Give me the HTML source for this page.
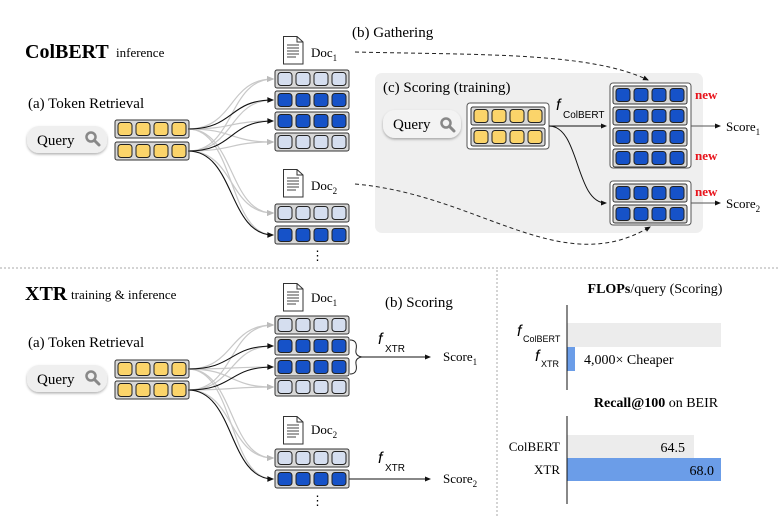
<!DOCTYPE html>
<html><head><meta charset="utf-8"><style>
html,body{margin:0;padding:0;background:#fff;}
svg{display:block;font-family:"Liberation Serif",serif;}
</style></head><body>
<svg width="778" height="516" viewBox="0 0 778 516" xmlns="http://www.w3.org/2000/svg">
<defs>
<g id="rl"><rect x="0" y="0" width="74" height="18" rx="2" fill="#d8d8d8" stroke="#333" stroke-width="1"/>
<rect x="3" y="2.5" width="14" height="13" rx="3" fill="#d5deef" stroke="#222"/><rect x="21" y="2.5" width="14" height="13" rx="3" fill="#d5deef" stroke="#222"/><rect x="39" y="2.5" width="14" height="13" rx="3" fill="#d5deef" stroke="#222"/><rect x="57" y="2.5" width="14" height="13" rx="3" fill="#d5deef" stroke="#222"/></g>
<g id="rd"><rect x="0" y="0" width="74" height="18" rx="2" fill="#d8d8d8" stroke="#333" stroke-width="1"/>
<rect x="3" y="2.5" width="14" height="13" rx="3" fill="#1652c8" stroke="#222"/><rect x="21" y="2.5" width="14" height="13" rx="3" fill="#1652c8" stroke="#222"/><rect x="39" y="2.5" width="14" height="13" rx="3" fill="#1652c8" stroke="#222"/><rect x="57" y="2.5" width="14" height="13" rx="3" fill="#1652c8" stroke="#222"/></g>
<g id="ry"><rect x="0" y="0" width="74" height="18" rx="2" fill="#d8d8d8" stroke="#333" stroke-width="1"/>
<rect x="3" y="2.5" width="14" height="13" rx="3" fill="#fbd46a" stroke="#222"/><rect x="21" y="2.5" width="14" height="13" rx="3" fill="#fbd46a" stroke="#222"/><rect x="39" y="2.5" width="14" height="13" rx="3" fill="#fbd46a" stroke="#222"/><rect x="57" y="2.5" width="14" height="13" rx="3" fill="#fbd46a" stroke="#222"/></g>
<g id="doc"><path d="M0.5,0.5 H14 L20,6 V28 H0.5 Z" fill="#fff" stroke="#333"/><path d="M14,0.5 V6 H20" fill="none" stroke="#333"/>
<path d="M4,9H16M4,12H16M4,15H16M4,18H16M4,21H13" stroke="#444" stroke-width="1"/></g>
<g id="mag"><circle cx="0" cy="0" r="4.5" fill="none" stroke="#888" stroke-width="2.5"/><line x1="3.5" y1="3.5" x2="8" y2="8" stroke="#888" stroke-width="3" stroke-linecap="round"/></g>
<marker id="ab" markerWidth="6" markerHeight="6" refX="5" refY="3" orient="auto"><path d="M0,0.5 L6,3 L0,5.5 Z" fill="#111"/></marker>
<marker id="ag" markerWidth="6" markerHeight="6" refX="5" refY="3" orient="auto"><path d="M0,0.5 L6,3 L0,5.5 Z" fill="#bbb"/></marker>
<filter id="sh" x="-20%" y="-20%" width="140%" height="160%"><feDropShadow dx="0" dy="1.5" stdDeviation="1.2" flood-color="#000" flood-opacity="0.3"/></filter>
</defs>

<!-- ColBERT section -->
<text x="25" y="58" font-size="20" font-weight="bold">ColBERT</text>
<text x="116" y="57" font-size="13">inference</text>
<text x="28" y="108" font-size="15">(a) Token Retrieval</text>
<rect x="27" y="126" width="80" height="27" rx="12" fill="#efefef" filter="url(#sh)"/>
<text x="37" y="145" font-size="15">Query</text>
<use href="#mag" x="91" y="137"/>
<use href="#ry" x="115" y="120"/><use href="#ry" x="115" y="142"/>

<!-- gray lines top -->
<g fill="none" stroke="#c8c8c8" stroke-width="1.2" marker-end="url(#ag)">
<path d="M188,129 C235,129 228,79 273,79"/><path d="M188,151 C235,151 228,79 273,79"/>
<path d="M188,129 C235,129 228,142 273,142"/><path d="M188,151 C235,151 228,142 273,142"/>
<path d="M188,129 C235,129 228,213 273,213"/><path d="M188,151 C235,151 228,213 273,213"/>
<path d="M188,151 C235,151 228,100 273,100"/><path d="M188,129 C235,129 228,235 273,235"/>
<path d="M188,129 C235,129 228,121 273,121"/>
</g>
<g fill="none" stroke="#111" stroke-width="1.1" marker-end="url(#ab)">
<path d="M188,129 C235,129 228,100 273,100"/><path d="M188,151 C235,151 228,121 273,121"/><path d="M188,151 C235,151 228,235 273,235"/>
</g>

<use href="#doc" x="283" y="36"/><text x="311" y="57" font-size="13">Doc<tspan font-size="9" dy="4">1</tspan></text>
<use href="#rl" x="275" y="70"/><use href="#rd" x="275" y="91"/><use href="#rd" x="275" y="112"/><use href="#rl" x="275" y="133"/>
<use href="#doc" x="283" y="169"/><text x="311" y="190" font-size="13">Doc<tspan font-size="9" dy="4">2</tspan></text>
<use href="#rl" x="275" y="204"/><use href="#rd" x="275" y="226"/>
<text x="311" y="260" font-size="13">⋮</text>

<text x="352" y="37" font-size="15">(b) Gathering</text>

<!-- scoring box -->
<rect x="375" y="73" width="328" height="160" rx="7" fill="#efefef"/>
<text x="383" y="92" font-size="15">(c) Scoring (training)</text>
<rect x="383" y="110" width="78" height="28" rx="12" fill="#f3f3f3" filter="url(#sh)"/>
<text x="393" y="129" font-size="15">Query</text>
<use href="#mag" x="446" y="123"/>
<rect x="467" y="103" width="82" height="46" rx="3" fill="#fff" stroke="#555"/>
<use href="#ry" x="471" y="107"/><use href="#ry" x="471" y="128"/>
<text x="556" y="110" font-size="16" font-style="italic" font-family="Liberation Sans,sans-serif">f</text>
<text x="563" y="118" font-size="10" font-family="Liberation Sans,sans-serif">ColBERT</text>
<path d="M549,126 H606" stroke="#111" fill="none" stroke-width="1" marker-end="url(#ab)"/>
<path d="M549,126 C580,126 575,203 606,203" stroke="#111" fill="none" stroke-width="1" marker-end="url(#ab)"/>
<rect x="610" y="83" width="81" height="85" rx="3" fill="#fff" stroke="#555"/>
<use href="#rd" x="613" y="86"/><use href="#rd" x="613" y="107"/><use href="#rd" x="613" y="128"/><use href="#rd" x="613" y="149"/>
<rect x="610" y="181" width="81" height="44" rx="3" fill="#fff" stroke="#555"/>
<use href="#rd" x="613" y="184"/><use href="#rd" x="613" y="205"/>
<g font-size="13" font-weight="bold" fill="#e8141c"><text x="695" y="99">new</text><text x="695" y="160">new</text><text x="695" y="196">new</text></g>
<path d="M691,126 H720" stroke="#555" marker-end="url(#ab)"/>
<path d="M691,203 H720" stroke="#555" marker-end="url(#ab)"/>
<text x="726" y="131" font-size="13">Score<tspan font-size="9" dy="4">1</tspan></text>
<text x="726" y="208" font-size="13">Score<tspan font-size="9" dy="4">2</tspan></text>

<path d="M355,52 C480,55 590,52 648,80" fill="none" stroke="#222" stroke-dasharray="4,3" marker-end="url(#ab)"/>
<path d="M355,184 C480,195 560,280 650,227" fill="none" stroke="#222" stroke-dasharray="4,3" marker-end="url(#ab)"/>

<!-- separators -->
<line x1="0" y1="268" x2="778" y2="268" stroke="#aaa" stroke-dasharray="2,2"/>
<line x1="497" y1="270" x2="497" y2="516" stroke="#aaa" stroke-dasharray="2,2"/>

<!-- XTR section -->
<text x="25" y="300" font-size="20" font-weight="bold">XTR</text>
<text x="71" y="299" font-size="13">training &amp; inference</text>
<text x="28" y="347" font-size="15">(a) Token Retrieval</text>
<rect x="27" y="365" width="80" height="27" rx="12" fill="#efefef" filter="url(#sh)"/>
<text x="37" y="384" font-size="15">Query</text>
<use href="#mag" x="91" y="376"/>
<use href="#ry" x="115" y="360"/><use href="#ry" x="115" y="381"/>

<g fill="none" stroke="#c8c8c8" stroke-width="1.2" marker-end="url(#ag)">
<path d="M188,369 C235,369 228,325 273,325"/><path d="M188,390 C235,390 228,325 273,325"/>
<path d="M188,369 C235,369 228,387 273,387"/><path d="M188,390 C235,390 228,387 273,387"/>
<path d="M188,369 C235,369 228,458 273,458"/><path d="M188,390 C235,390 228,458 273,458"/>
<path d="M188,390 C235,390 228,346 273,346"/><path d="M188,369 C235,369 228,479 273,479"/>
<path d="M188,369 C235,369 228,367 273,367"/>
</g>
<g fill="none" stroke="#111" stroke-width="1.1" marker-end="url(#ab)">
<path d="M188,369 C235,369 228,346 273,346"/><path d="M188,390 C235,390 228,367 273,367"/><path d="M188,390 C235,390 228,479 273,479"/>
</g>

<use href="#doc" x="283" y="283"/><text x="311" y="302" font-size="13">Doc<tspan font-size="9" dy="4">1</tspan></text>
<use href="#rl" x="275" y="316"/><use href="#rd" x="275" y="337"/><use href="#rd" x="275" y="358"/><use href="#rl" x="275" y="378"/>
<use href="#doc" x="283" y="416"/><text x="311" y="434" font-size="13">Doc<tspan font-size="9" dy="4">2</tspan></text>
<use href="#rl" x="275" y="449"/><use href="#rd" x="275" y="470"/>
<text x="311" y="505" font-size="13">⋮</text>

<text x="385" y="307" font-size="15">(b) Scoring</text>
<path d="M350,340 Q358,340 356,350 Q355,356 362,357 Q355,358 356,364 Q358,374 350,374" fill="none" stroke="#222"/>
<path d="M362,357 H430" stroke="#111" marker-end="url(#ab)"/>
<text x="378" y="344" font-size="16" font-style="italic" font-family="Liberation Sans,sans-serif">f</text>
<text x="385" y="352" font-size="10" font-family="Liberation Sans,sans-serif">XTR</text>
<text x="443" y="361" font-size="13">Score<tspan font-size="9" dy="4">1</tspan></text>
<path d="M349,479 H430" stroke="#111" marker-end="url(#ab)"/>
<text x="378" y="463" font-size="16" font-style="italic" font-family="Liberation Sans,sans-serif">f</text>
<text x="385" y="471" font-size="10" font-family="Liberation Sans,sans-serif">XTR</text>
<text x="443" y="483" font-size="13">Score<tspan font-size="9" dy="4">2</tspan></text>

<!-- chart -->
<text x="655" y="293" font-size="14" text-anchor="middle"><tspan font-weight="bold">FLOPs</tspan>/query (Scoring)</text>
<rect x="567" y="323" width="154" height="24" fill="#ececec"/>
<rect x="567" y="347" width="8" height="24" fill="#6b9de8"/>
<line x1="567" y1="305" x2="567" y2="390" stroke="#111"/>
<text x="517" y="336" font-size="16" font-style="italic" font-family="Liberation Sans,sans-serif">f</text>
<text x="523" y="342" font-size="9" font-family="Liberation Sans,sans-serif">ColBERT</text>
<text x="535" y="361" font-size="16" font-style="italic" font-family="Liberation Sans,sans-serif">f</text>
<text x="541" y="367" font-size="9" font-family="Liberation Sans,sans-serif">XTR</text>
<text x="584" y="364" font-size="14">4,000× Cheaper</text>

<text x="656" y="407" font-size="14" text-anchor="middle"><tspan font-weight="bold">Recall@100</tspan> on BEIR</text>
<rect x="567" y="435" width="127" height="23" fill="#ececec"/>
<rect x="567" y="458" width="154" height="23" fill="#6b9de8"/>
<line x1="567" y1="416" x2="567" y2="504" stroke="#111"/>
<text x="560" y="451" font-size="13" text-anchor="end">ColBERT</text>
<text x="560" y="474" font-size="13" text-anchor="end">XTR</text>
<text x="685" y="452" font-size="14" text-anchor="end">64.5</text>
<text x="714" y="475" font-size="14" text-anchor="end">68.0</text>
</svg>
</body></html>
